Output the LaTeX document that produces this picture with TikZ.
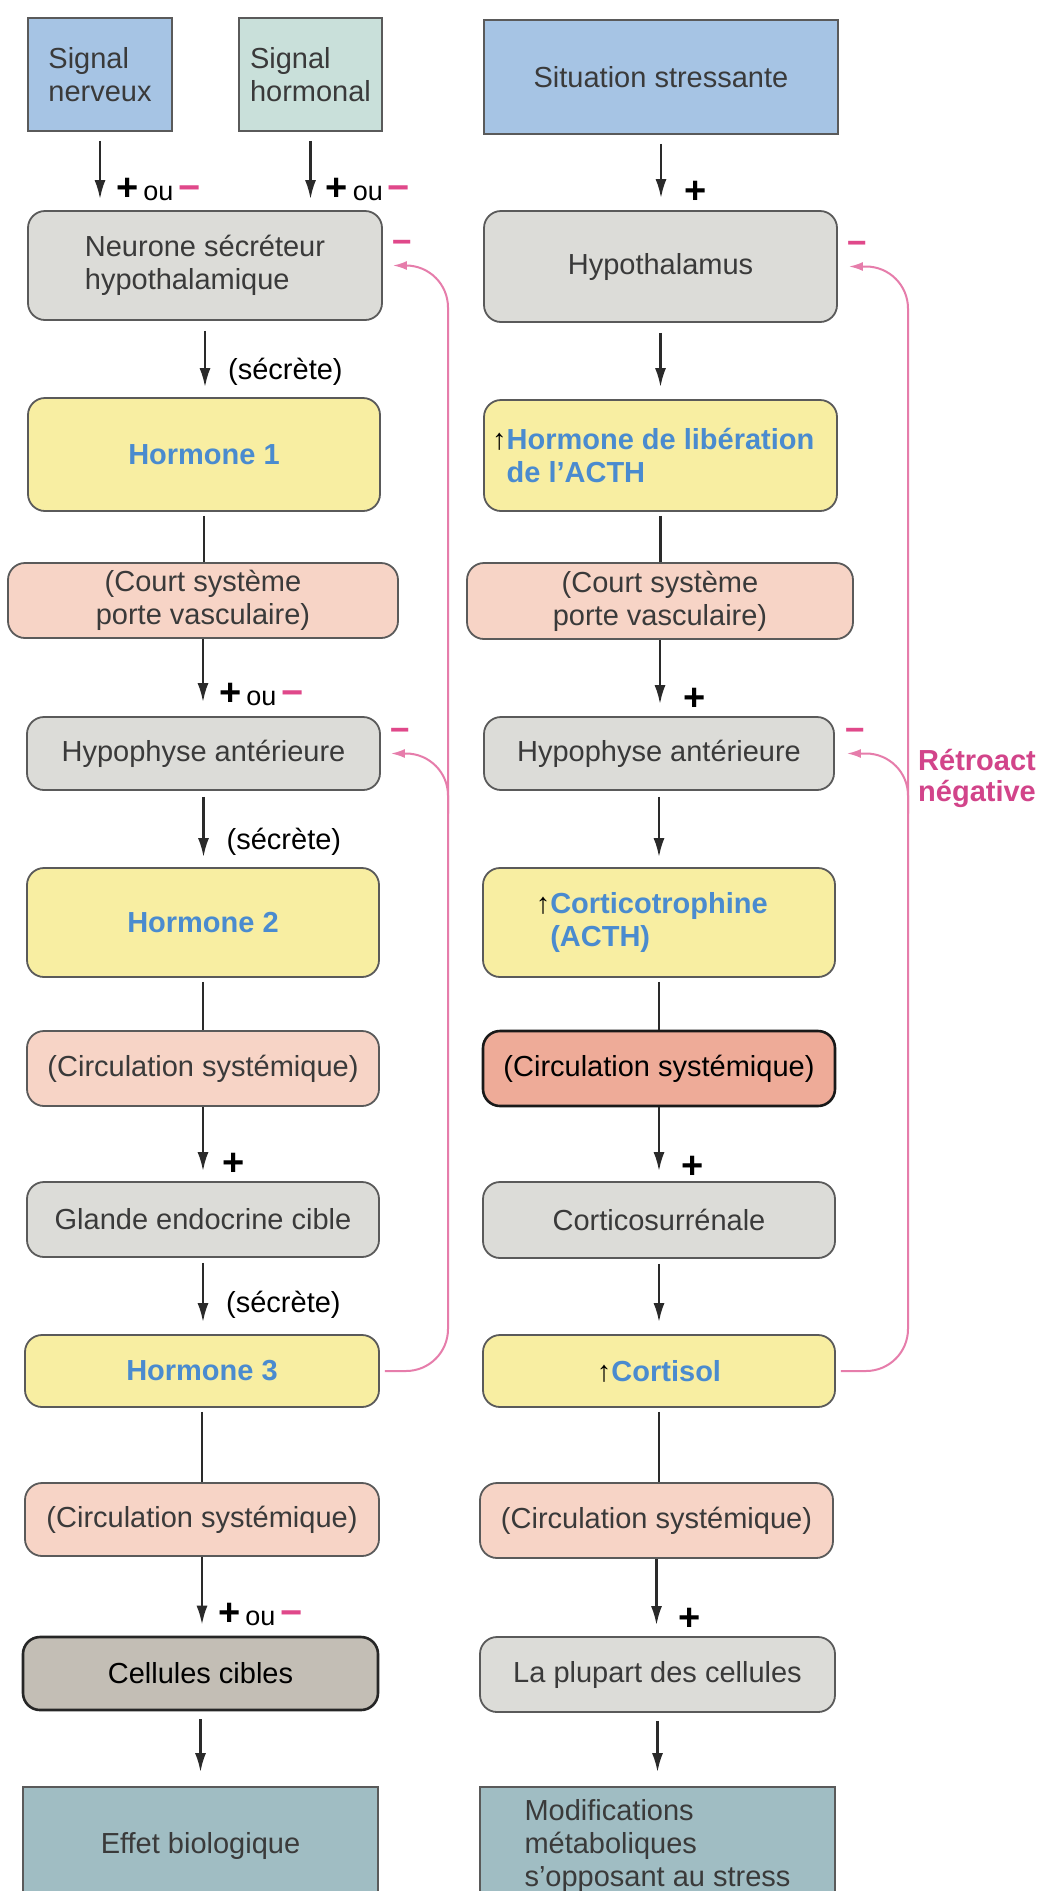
\documentclass[tikz,border=0pt]{standalone}
\usepackage{fontspec}
\setmainfont{Liberation Sans}
\usetikzlibrary{arrows.meta}
\definecolor{txt}{HTML}{3A3A3A}
\definecolor{bluebox}{HTML}{A6C4E4}
\definecolor{tealbox}{HTML}{C9E0DA}
\definecolor{graybox}{HTML}{DCDCD8}
\definecolor{yellowbox}{HTML}{F8EEA2}
\definecolor{salmon}{HTML}{F7D4C6}
\definecolor{salmondark}{HTML}{EEAB98}
\definecolor{cellgray}{HTML}{C3BEB5}
\definecolor{effet}{HTML}{A0BDC3}
\definecolor{hblue}{HTML}{4A8BCF}
\definecolor{pinkline}{HTML}{E67DAB}
\definecolor{pinkminus}{HTML}{E0488A}
\definecolor{retro}{HTML}{D2448A}
\definecolor{boxline}{HTML}{5A5A5A}
\definecolor{arrowc}{HTML}{2A2A2A}
\newcommand\fs{\fontsize{29}{33}\selectfont}
\newcommand\placebox[7]{\node[#1, minimum width={(#5-#3)*1pt}, minimum height={(#6-#4)*1pt}] (#2) at ({(#3+#5)/2},{(#4+#6)/2}) {#7};}
\newcommand\plusou{{\fontsize{38}{38}\selectfont\bfseries +}\hspace{5pt}{\fontsize{27}{30}\selectfont ou}\hspace{5pt}{\fontsize{38}{38}\selectfont\bfseries\color{pinkminus}−}}
\newcommand\plusonly{{\fontsize{38}{38}\selectfont\bfseries +}}
\newcommand\uparr{\llap{\textcolor{black}{\mdseries ↑}}}
\begin{document}
\begin{tikzpicture}[x=1pt,y=-1pt,
  box/.style={draw=boxline, line width=1.8pt, inner sep=0pt, font=\fs, text=txt, align=center},
  rd/.style={box, rounded corners=17pt},
  arr/.style={draw=arrowc, line width=2.4pt, -{Latex[length=19pt,width=11pt]}},
  plain/.style={draw=arrowc, line width=2.4pt},
  pinkarr/.style={draw=pinkline, line width=2pt, rounded corners=42pt, -{Latex[length=14pt,width=9pt]}},
  minus/.style={inner sep=0pt, text=pinkminus, font=\fontsize{34}{34}\selectfont\bfseries},
  lab/.style={inner sep=0pt, text=black, font=\fs},
  hb/.style={text=hblue, font=\fs\bfseries},
]
\useasboundingbox (0,0) rectangle (1042,1891);
\clip (0,0) rectangle (1042,1891);
\fill[white] (0,0) rectangle (1042,1891);

% left column
\placebox{box, fill=bluebox, align=left}{sn}{28}{18}{172}{131}{Signal\\nerveux}
\placebox{box, fill=tealbox, align=left}{sh}{239}{18}{382}{131}{Signal\\hormonal}
\placebox{rd, fill=graybox, align=left}{neur}{28}{211}{382}{320}{Neurone sécréteur\\hypothalamique}
\placebox{rd, fill=yellowbox, hb}{h1}{28}{398}{380}{511}{Hormone 1}
\placebox{rd, fill=salmon}{court1}{8}{563}{398}{638}{(Court système\\ porte vasculaire)}
\placebox{rd, fill=graybox}{hyp1}{27}{717}{380}{790}{Hypophyse antérieure}
\placebox{rd, fill=yellowbox, hb}{h2}{27}{868}{379}{977}{Hormone 2}
\placebox{rd, fill=salmon}{circ1}{27}{1031}{379}{1106}{(Circulation systémique)}
\placebox{rd, fill=graybox}{gl}{27}{1182}{379}{1257}{Glande endocrine cible}
\placebox{rd, fill=yellowbox, hb}{h3}{25}{1335}{379}{1407}{Hormone 3}
\placebox{rd, fill=salmon}{circ3}{25}{1483}{379}{1556}{(Circulation systémique)}
\placebox{rd, fill=cellgray, draw=black!85, line width=2.6pt, text=black}{cell}{23}{1637}{378}{1710}{Cellules cibles}
\placebox{box, fill=effet}{eff}{23}{1787}{378}{1905}{Effet biologique}

% right column
\placebox{box, fill=bluebox}{ss}{484}{20}{838}{134}{Situation stressante}
\placebox{rd, fill=graybox}{hyth}{484}{211}{837}{322}{Hypothalamus}
\placebox{rd, fill=yellowbox, hb, align=left}{hlib}{484}{400}{837}{511}{\uparr Hormone de libération\\de l'ACTH}
\placebox{rd, fill=salmon}{court2}{467}{563}{853}{639}{(Court système\\ porte vasculaire)}
\placebox{rd, fill=graybox}{hyp2}{484}{717}{834}{790}{Hypophyse antérieure}
\placebox{rd, fill=yellowbox, hb, align=left}{acth}{483}{868}{835}{977}{\uparr Corticotrophine\\(ACTH)}
\placebox{rd, fill=salmondark, draw=black!90, line width=2.6pt, text=black}{circ2}{483}{1031}{835}{1106}{(Circulation systémique)}
\placebox{rd, fill=graybox}{cs}{483}{1182}{835}{1258}{Corticosurrénale}
\placebox{rd, fill=yellowbox, hb}{cort}{483}{1335}{835}{1407}{\textcolor{black}{\mdseries ↑}Cortisol}
\placebox{rd, fill=salmon}{circ4}{480}{1483}{833}{1558}{(Circulation systémique)}
\placebox{rd, fill=graybox}{plup}{480}{1637}{835}{1712}{La plupart des cellules}
\placebox{box, fill=effet, align=left}{mod}{480}{1787}{835}{1905}{Modifications\\métaboliques\\s'opposant au stress}

% left arrows
\draw[arr] ([yshift=-9pt]sn.south) -- ([yshift=11pt]sn.south |- neur.north)
  node[lab, pos=1, anchor=west, xshift=15pt, yshift=10pt] {\plusou};
\draw[arr] ([yshift=-9pt]sh.south) -- ([yshift=11pt]sh.south |- neur.north)
  node[lab, pos=1, anchor=west, xshift=14pt, yshift=10pt] {\plusou};
\draw[arr] ([yshift=-10pt]neur.south) -- ([yshift=10pt]neur.south |- h1.north)
  node[lab, pos=1, anchor=west, xshift=22pt, yshift=15pt] {(sécrète)};
\draw[plain] ([yshift=-4pt]h1.south) -- (h1.south |- court1.north);
\draw[arr] (court1.south) -- ([yshift=14pt]court1.south |- hyp1.north)
  node[lab, pos=1, anchor=west, xshift=15pt, yshift=8pt] {\plusou};
\draw[arr] ([yshift=-6pt]hyp1.south) -- ([yshift=10pt]hyp1.south |- h2.north)
  node[lab, pos=1, anchor=west, xshift=22pt, yshift=15pt] {(sécrète)};
\draw[plain] ([yshift=-4pt]h2.south) -- (h2.south |- circ1.north);
\draw[arr] (circ1.south) -- ([yshift=10pt]circ1.south |- gl.north)
  node[lab, pos=1, xshift=31pt, yshift=7pt] {\plusonly};
\draw[arr] ([yshift=-5pt]gl.south) -- ([yshift=12pt]gl.south |- h3.north)
  node[lab, pos=1, anchor=west, xshift=22pt, yshift=17pt] {(sécrète)};
\draw[plain] ([yshift=-4pt]h3.south) -- (h3.south |- circ3.north);
\draw[arr] (circ3.south) -- ([yshift=11pt]circ3.south |- cell.north)
  node[lab, pos=1, anchor=west, xshift=15pt, yshift=10pt] {\plusou};
\draw[arr] ([yshift=-8pt]cell.south) -- ([yshift=14pt]cell.south |- eff.north);

% right arrows
\draw[arr] ([yshift=-9pt]ss.south) -- ([yshift=12pt]ss.south |- hyth.north)
  node[lab, pos=1, xshift=35pt, yshift=6pt] {\plusonly};
\draw[arr] ([yshift=-10pt]hyth.south) -- ([yshift=12pt]hyth.south |- hlib.north);
\draw[plain] ([yshift=-4pt]hlib.south) -- (hlib.south |- court2.north);
\draw[arr] (court2.south) -- ([yshift=12pt]court2.south |- hyp2.north)
  node[lab, pos=1, xshift=35pt, yshift=5pt] {\plusonly};
\draw[arr] ([yshift=-6pt]hyp2.south) -- ([yshift=10pt]hyp2.south |- acth.north);
\draw[plain] ([yshift=-4pt]acth.south) -- (acth.south |- circ2.north);
\draw[arr] (circ2.south) -- ([yshift=10pt]circ2.south |- cs.north)
  node[lab, pos=1, xshift=34pt, yshift=4pt] {\plusonly};
\draw[arr] ([yshift=-5pt]cs.south) -- ([yshift=12pt]cs.south |- cort.north);
\draw[plain] ([yshift=-4pt]cort.south) -- (cort.south |- circ4.north);
\draw[arr] (circ4.south) -- ([yshift=11pt]circ4.south |- plup.north)
  node[lab, pos=1, xshift=33pt, yshift=6pt] {\plusonly};
\draw[arr] ([yshift=-8pt]plup.south) -- ([yshift=14pt]plup.south |- mod.north);

% feedback
\coordinate (L) at (448,0);
\coordinate (R) at (908,0);
\draw[pinkarr] ([xshift=5pt]h3.east) -- (L |- h3.east) -- (L |- neur.east) -- ([xshift=10pt]neur.east);
\draw[pinkarr] ([yshift=-60pt]L |- hyp1.east) -- (L |- hyp1.east) -- ([xshift=10pt]hyp1.east);
\draw[pinkarr] ([xshift=5pt]cort.east) -- (R |- cort.east) -- (R |- hyth.east) -- ([xshift=11pt]hyth.east);
\draw[pinkarr] ([yshift=-60pt]R |- hyp2.east) -- (R |- hyp2.east) -- ([xshift=12pt]hyp2.east);

\node[minus] (m1) at ([xshift=19pt,yshift=19pt]neur.east) {−};
\node[minus] (m2) at ([xshift=19pt,yshift=19pt]hyp1.east) {−};
\node[minus] (m3) at ([xshift=19pt,yshift=19pt]hyth.east) {−};
\node[minus] (m4) at ([xshift=20pt,yshift=19pt]hyp2.east) {−};

\node[inner sep=0pt, anchor=west, align=left, text=retro, font=\fontsize{29}{31}\selectfont\bfseries] (retro) at (918,778) {Rétroact\\négative};
\end{tikzpicture}
\end{document}
